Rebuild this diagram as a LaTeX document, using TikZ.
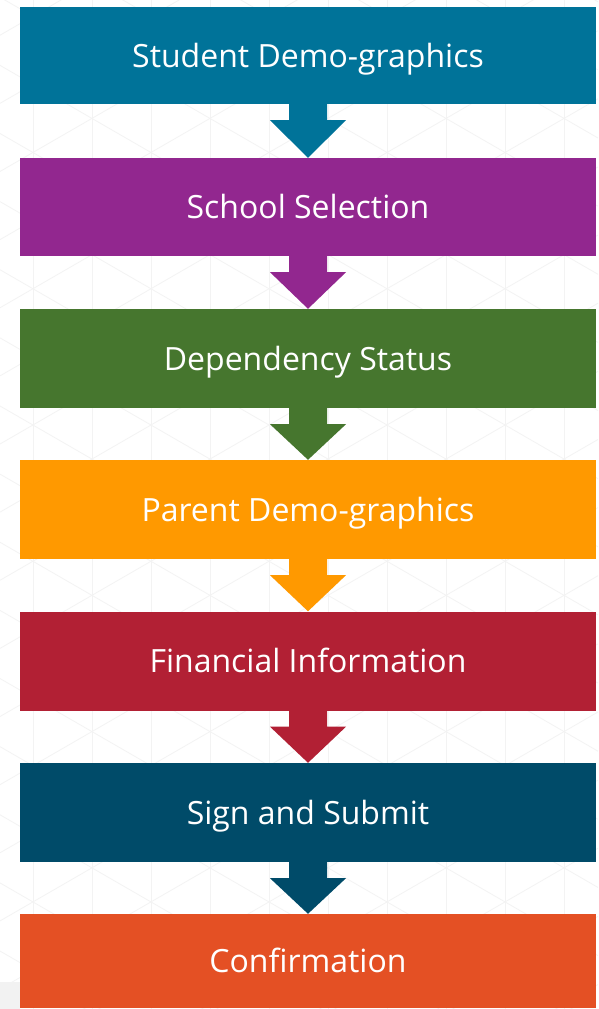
\documentclass[tikz,border=0pt]{standalone}
\usepackage{fontspec}
\setmainfont{Open Sans}
\usetikzlibrary{calc}
\definecolor{cA}{RGB}{0,115,153}
\definecolor{cB}{RGB}{146,39,143}
\definecolor{cC}{RGB}{70,118,46}
\definecolor{cD}{RGB}{255,153,0}
\definecolor{cE}{RGB}{178,32,52}
\definecolor{cF}{RGB}{0,75,105}
\definecolor{cG}{RGB}{228,80,36}
\definecolor{gridc}{RGB}{243,243,243}
\tikzset{
  stepbox/.style={rectangle, inner sep=0pt, minimum width=576pt, text=white, text height=23pt, text depth=0pt, font=\fontsize{32}{38}\selectfont},
}
\begin{document}
\begin{tikzpicture}[x=1pt,y=-1pt]
\useasboundingbox (0,0) rectangle (598,1009);
\fill[white] (0,0) rectangle (598,1009);
\begin{scope}
\clip (0,0) rectangle (598,1009);
\foreach \k in {0,...,9} \draw[gridc, line width=0.8pt] ({33+59*\k},0) -- ({33+59*\k},1009);
\foreach \n in {-16,...,16} {
  \draw[gridc, line width=0.8pt] (0,{201.6+68.13*\n}) -- (598,{546.8+68.13*\n});
  \draw[gridc, line width=0.8pt] (0,{648.4+68.13*\n}) -- (598,{303.2+68.13*\n});
}
\end{scope}
\fill[black!5] (0,982) rectangle (20,1009);
% boxes
\node[stepbox, fill=cA, minimum height=97pt] (b1) at (308,55.5) {Student Demo-graphics};
\node[stepbox, fill=cB, minimum height=98pt] (b2) at (308,207) {School Selection};
\node[stepbox, fill=cC, minimum height=99pt] (b3) at (308,358.5) {Dependency Status};
\node[stepbox, fill=cD, minimum height=99pt] (b4) at (308,509.5) {Parent Demo-graphics};
\node[stepbox, fill=cE, minimum height=99pt] (b5) at (308,661) {Financial Information};
\node[stepbox, fill=cF, minimum height=99pt] (b6) at (308,812.5) {Sign and Submit};
\node[stepbox, fill=cG, minimum height=94pt] (b7) at (308,961) {Confirmation};
% arrows
\foreach \a/\b/\c in {b1/b2/cA, b2/b3/cB, b3/b4/cC, b4/b5/cD, b5/b6/cE, b6/b7/cF} {
  \fill[\c] ($(\a.south)+(-19,0)$) -- ++(0,16) -- ++(-19,0) -- (\b.north) -- ($(\a.south)+(38,16)$) -- ++(-19,0) -- ++(0,-16) -- cycle;
}
\end{tikzpicture}
\end{document}
